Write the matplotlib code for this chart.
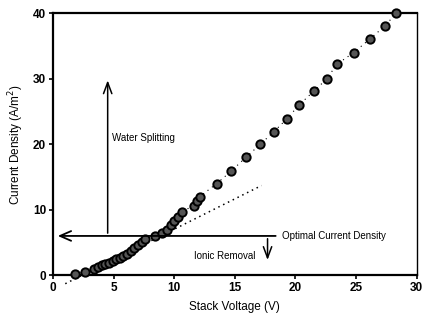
import matplotlib
matplotlib.use("Agg")
import matplotlib.pyplot as plt

voltage = [1.8, 2.6, 3.4, 3.7, 4.0, 4.3, 4.6, 4.9, 5.2, 5.5, 5.8, 6.1, 6.4, 6.7,
           7.0, 7.3, 7.6, 8.4, 9.0, 9.4, 9.7, 10.0, 10.3, 10.6, 11.6, 11.9, 12.1,
           13.5, 14.7, 15.9, 17.1, 18.2, 19.3, 20.3, 21.5, 22.6, 23.4, 24.8,
           26.15, 27.4, 28.3]
current = [0.2, 0.5, 0.9, 1.2, 1.5, 1.7, 1.9, 2.1, 2.4, 2.7, 3.0, 3.3, 3.7, 4.1,
           4.6, 5.1, 5.5, 6.0, 6.4, 6.9, 7.6, 8.3, 8.9, 9.7, 10.6, 11.3, 12.0,
           14.0, 15.9, 18.0, 20.0, 21.9, 23.9, 26.0, 28.1, 30.0, 32.2, 34.0,
           36.1, 38.1, 40.0]
fit_voltage = [1.0, 17.2]
fit_current = [-1.3, 13.7]
optimal_current = 6.0

plt.rcParams['font.family'] = ['Liberation Sans', 'DejaVu Sans']

fig = plt.figure(figsize=(4.22, 3.20), dpi=100)
ax = fig.add_axes([0.126, 0.140, 0.861, 0.818])

ax.plot(fit_voltage, fit_current, linestyle=(0, (1, 2.5)), color='black',
        linewidth=1.1, clip_on=False, zorder=2)
ax.plot(voltage, current, linestyle=(0, (1, 4)), color='black', linewidth=0.8,
        marker='o', markersize=6, markerfacecolor='#555555',
        markeredgecolor='black', markeredgewidth=1.4, clip_on=False, zorder=3)

ax.set_xlim(0, 30)
ax.set_ylim(0, 40)
ax.set_xticks([0, 5, 10, 15, 20, 25, 30])
ax.set_yticks([0, 10, 20, 30, 40])
ax.tick_params(axis='both', direction='out', length=3, width=1.2,
               labelsize=8.5, pad=2)
for lab in ax.get_xticklabels() + ax.get_yticklabels():
    lab.set_fontweight('bold')
for side in ['left', 'bottom', 'top']:
    ax.spines[side].set_linewidth(1.6)
ax.spines['right'].set_linewidth(1.0)

ax.set_xlabel('Stack Voltage (V)', fontsize=8.5, labelpad=5)
ax.set_ylabel('Current Density (A/m$^2$)', fontsize=8.5, labelpad=5)

# horizontal optimal current line with left arrow
ax.annotate('', xy=(0.15, optimal_current), xytext=(18.6, optimal_current),
            arrowprops=dict(arrowstyle='->,head_length=0.8,head_width=0.35',
                            color='black', lw=1.3))
ax.text(18.9, optimal_current, 'Optimal Current Density', fontsize=7,
        va='center', ha='left')

# up arrow: water splitting
ax.annotate('', xy=(4.5, 30.2), xytext=(4.5, optimal_current),
            arrowprops=dict(arrowstyle='->,head_length=0.8,head_width=0.3',
                            color='black', lw=1.1))
ax.text(4.85, 21.0, 'Water Splitting', fontsize=7, va='center', ha='left')

# down arrow: ionic removal
ax.annotate('', xy=(17.7, 1.9), xytext=(17.7, optimal_current),
            arrowprops=dict(arrowstyle='->,head_length=0.8,head_width=0.3',
                            color='black', lw=1.1))
ax.text(11.6, 3.0, 'Ionic Removal', fontsize=7, va='center', ha='left')

fig.savefig('out.png', dpi=100)
